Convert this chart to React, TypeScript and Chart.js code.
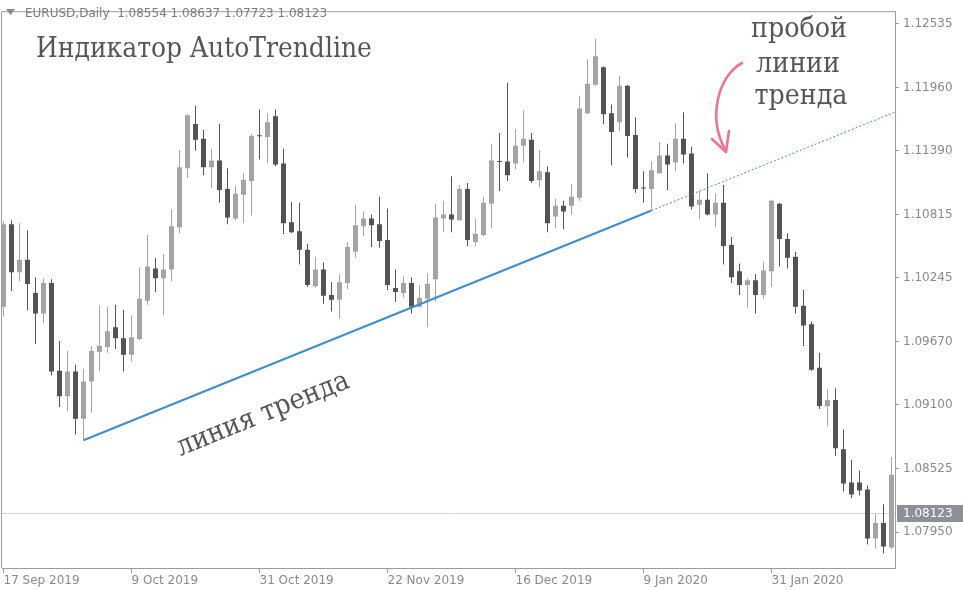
import React, { useEffect, useRef } from "react";
import { Chart, registerables } from "chart.js";

Chart.register(...registerables);

// EURUSD daily bars, 17 Sep 2019 – 21 Feb 2020
const openP = [
  1.09985, 1.10728, 1.10295, 1.10409, 1.10109, 1.09923, 1.10198, 1.09408, 1.09178, 1.094,
  1.08974, 1.09311, 1.09577, 1.09622, 1.09799, 1.09701, 1.09551, 1.09693, 1.10038, 1.1033,
  1.10242, 1.10321, 1.10702, 1.11233, 1.11632, 1.11499, 1.11242, 1.11304, 1.11047, 1.10781,
  1.10994, 1.11118, 1.1153, 1.11516, 1.11702, 1.11277, 1.10746, 1.10666, 1.10498, 1.10171,
  1.10321, 1.10091, 1.10047, 1.10198, 1.1048, 1.1071, 1.10781, 1.10728, 1.10587, 1.10153,
  1.10109, 1.10198, 1.09985, 1.10056, 1.10233, 1.10781, 1.10817, 1.10764, 1.11047, 1.10569,
  1.10631, 1.10914, 1.11299, 1.11295, 1.11277, 1.11437, 1.1149, 1.11127, 1.11198, 1.10799,
  1.10896, 1.10896, 1.10967, 1.11729, 1.11986, 1.12145, 1.11729, 1.11649, 1.11977, 1.11534,
  1.11056, 1.11047, 1.11189, 1.11348, 1.11286, 1.11499, 1.11366, 1.10905, 1.1095, 1.10817,
  1.10923, 1.10542, 1.10304, 1.1018, 1.10224, 1.10091, 1.10304, 1.10914, 1.10595, 1.10436,
  1.09994, 1.09826, 1.09435, 1.0909, 1.09143, 1.087, 1.08399, 1.08399, 1.08337, 1.07894,
  1.08035, 1.07814,
];
const highP = [
  1.10755, 1.10764, 1.10737, 1.10675, 1.10251, 1.10242, 1.10233, 1.09675, 1.09586, 1.09462,
  1.09426, 1.09631, 1.09994, 1.09985, 1.10003, 1.09958, 1.09905, 1.10339, 1.10631, 1.10427,
  1.10462, 1.10861, 1.11401, 1.1172, 1.118, 1.11578, 1.1141, 1.11632, 1.11233, 1.11074,
  1.11189, 1.11543, 1.11764, 1.11729, 1.11764, 1.1141, 1.10932, 1.10923, 1.10551, 1.10436,
  1.10383, 1.10206, 1.10277, 1.10569, 1.10905, 1.10843, 1.10817, 1.10976, 1.1087, 1.10321,
  1.10259, 1.10251, 1.1018, 1.10286, 1.10914, 1.10941, 1.11162, 1.11082, 1.111, 1.10781,
  1.10976, 1.11454, 1.11552, 1.12004, 1.11587, 1.11756, 1.11552, 1.11401, 1.11251, 1.10958,
  1.10941, 1.11091, 1.11888, 1.12216, 1.12402, 1.12154, 1.11809, 1.12066, 1.11986, 1.11694,
  1.11206, 1.11295, 1.11472, 1.11454, 1.1164, 1.11738, 1.11428, 1.11029, 1.11189, 1.11003,
  1.11082, 1.10613, 1.10374, 1.10242, 1.10277, 1.10392, 1.1095, 1.10923, 1.10648, 1.1048,
  1.10135, 1.09852, 1.09569, 1.0924, 1.09249, 1.08877, 1.08602, 1.08505, 1.08372, 1.08115,
  1.08204, 1.08629,
];
const lowP = [
  1.09896, 1.10127, 1.10215, 1.0995, 1.09648, 1.09834, 1.09364, 1.09081, 1.09045, 1.08833,
  1.0878, 1.09028, 1.094, 1.09569, 1.09604, 1.094, 1.09489, 1.09684, 1.10003, 1.10118,
  1.09905, 1.10215, 1.10648, 1.11144, 1.11392, 1.11171, 1.11056, 1.10923, 1.10728, 1.10764,
  1.10737, 1.10808, 1.11313, 1.11277, 1.11251, 1.1064, 1.10648, 1.10365, 1.10162, 1.10153,
  1.10012, 1.09941, 1.09879, 1.10144, 1.10427, 1.10622, 1.10524, 1.10516, 1.10135, 1.10029,
  1.10065, 1.09923, 1.09976, 1.09799, 1.10029, 1.10657, 1.10657, 1.10764, 1.10533, 1.10533,
  1.10622, 1.10693, 1.11029, 1.11118, 1.11224, 1.11286, 1.111, 1.11065, 1.10657, 1.10693,
  1.10684, 1.10817, 1.10941, 1.1172, 1.11977, 1.11632, 1.1126, 1.1157, 1.1133, 1.11012,
  1.10923, 1.10861, 1.11189, 1.11038, 1.11206, 1.11277, 1.10861, 1.10772, 1.10808, 1.10702,
  1.10365, 1.10198, 1.10091, 1.09976, 1.09923, 1.10056, 1.10162, 1.10347, 1.1033, 1.09923,
  1.09631, 1.09408, 1.09063, 1.08904, 1.08638, 1.08319, 1.08257, 1.08283, 1.07841, 1.07805,
  1.07761, 1.07796,
];
const closeP = [
  1.10728, 1.10295, 1.10409, 1.10189, 1.09923, 1.10198, 1.094, 1.09178, 1.094, 1.08974,
  1.09311, 1.09586, 1.09631, 1.09763, 1.09701, 1.09551, 1.0971, 1.10056, 1.10347, 1.10242,
  1.10321, 1.1071, 1.11242, 1.11711, 1.1149, 1.11242, 1.11304, 1.11038, 1.1079, 1.11003,
  1.11127, 1.11525, 1.11521, 1.11649, 1.11268, 1.10737, 1.10657, 1.10498, 1.1018, 1.10321,
  1.10083, 1.10047, 1.10206, 1.10524, 1.10719, 1.10781, 1.10719, 1.10578, 1.1018, 1.10118,
  1.10198, 1.09985, 1.10065, 1.10189, 1.1079, 1.10817, 1.10772, 1.11047, 1.10587, 1.1064,
  1.10923, 1.11304, 1.11291, 1.11171, 1.11437, 1.11499, 1.11118, 1.11206, 1.10737, 1.10896,
  1.10843, 1.10976, 1.11773, 1.11995, 1.12243, 1.1172, 1.11561, 1.11977, 1.11525, 1.11047,
  1.11051, 1.11215, 1.11348, 1.11268, 1.11499, 1.11357, 1.10888, 1.1095, 1.10817, 1.10923,
  1.10533, 1.10251, 1.1018, 1.10224, 1.10091, 1.10312, 1.10941, 1.10595, 1.10427, 1.09985,
  1.09816, 1.09417, 1.0909, 1.09143, 1.08709, 1.0839, 1.08292, 1.08328, 1.07894, 1.08035,
  1.07823, 1.08469,
];

const dateTickIndex = [0, 16, 32, 48, 64, 80, 96];
const dateTickText = [
  "17 Sep 2019",
  "9 Oct 2019",
  "31 Oct 2019",
  "22 Nov 2019",
  "16 Dec 2019",
  "9 Jan 2020",
  "31 Jan 2020",
];
const priceTicks = [1.12535, 1.1196, 1.1139, 1.10815, 1.10245, 1.0967, 1.091, 1.08525, 1.0795];
const bidPrice = 1.08123;
const headerText = "EURUSD,Daily  1.08554 1.08637 1.07723 1.08123";

// Trend line anchored on two bars; the dotted part extends it to the right edge
const trendFrom = { bar: 10, price: 1.0878 };
const trendTo = { bar: 81, price: 1.10852 };

const BAR_MIN = -0.1875;
const BAR_MAX = 111.4375;
const PRICE_MIN = 1.07628;
const PRICE_MAX = 1.1265;

const BULL = "#a4a4a4";
const BEAR = "#535353";
const FRAME = "#9c9c9c";
const AXIS_TEXT = "#8a8a8a";
const NOTE = "#565656";
const SANS = '"DejaVu Sans", sans-serif';
const SERIF = '"DejaVu Serif Condensed", "DejaVu Serif", serif';

const TITLE = "Индикатор AutoTrendline";
const BREAK_NOTE = ["пробой", "линии", "тренда"];
const LINE_NOTE = "линия тренда";

// fit a caption to a width, returning the font size to use
function fitSize(ctx: CanvasRenderingContext2D, text: string, width: number) {
  ctx.font = `30px ${SERIF}`;
  return (30 * width) / ctx.measureText(text).width;
}

const decorations = {
  id: "decorations",
  beforeDatasetsDraw(chart: any) {
    const { ctx, chartArea: a, scales } = chart;
    const yb = Math.round(scales.y.getPixelForValue(bidPrice)) + 0.5;
    ctx.save();
    ctx.strokeStyle = "#d6d6d6";
    ctx.lineWidth = 1;
    ctx.beginPath();
    ctx.moveTo(a.left, yb);
    ctx.lineTo(a.right, yb);
    ctx.stroke();
    ctx.restore();
  },
  afterDraw(chart: any) {
    const { ctx, chartArea: a, scales, width } = chart;
    const xs = scales.x;
    const ys = scales.y;
    ctx.save();

    // left and top edges of the frame
    ctx.strokeStyle = FRAME;
    ctx.lineWidth = 1;
    ctx.beginPath();
    ctx.moveTo(a.left - 0.5, a.bottom);
    ctx.lineTo(a.left - 0.5, a.top + 0.5);
    ctx.lineTo(a.right, a.top + 0.5);
    ctx.stroke();

    // bid price tag on the price axis
    const yb = Math.round(ys.getPixelForValue(bidPrice));
    ctx.fillStyle = "#8d9098";
    ctx.fillRect(a.right + 2, yb - 8, width - a.right - 2, 17);
    ctx.fillStyle = "#ffffff";
    ctx.font = `12px ${SANS}`;
    ctx.textBaseline = "middle";
    ctx.textAlign = "left";
    ctx.fillText(bidPrice.toFixed(5), a.right + 8, yb + 1);

    // symbol header
    ctx.fillStyle = "#8a8a8a";
    ctx.beginPath();
    ctx.moveTo(6, 9);
    ctx.lineTo(15, 9);
    ctx.lineTo(10.5, 15);
    ctx.closePath();
    ctx.fill();
    ctx.fillStyle = "#7c7c7c";
    ctx.textBaseline = "alphabetic";
    ctx.font = `12px ${SANS}`;
    ctx.fillText(headerText, 25, 17);

    // serif captions
    const size = fitSize(ctx, TITLE, 336);
    ctx.font = `${size}px ${SERIF}`;
    ctx.fillStyle = NOTE;
    ctx.textAlign = "left";
    ctx.fillText(TITLE, 36, 57);

    ctx.textAlign = "center";
    const noteX = [799, 798, 801];
    const noteY = [37, 72, 104];
    const noteSize = fitSize(ctx, BREAK_NOTE[2], 93);
    ctx.font = `${noteSize}px ${SERIF}`;
    BREAK_NOTE.forEach((t, i) => ctx.fillText(t, noteX[i], noteY[i]));

    // caption running along the trend line
    const x1 = xs.getPixelForValue(trendFrom.bar);
    const y1 = ys.getPixelForValue(trendFrom.price);
    const x2 = xs.getPixelForValue(trendTo.bar);
    const y2 = ys.getPixelForValue(trendTo.price);
    const ang = Math.atan2(y2 - y1, x2 - x1);
    const cx = 263;
    const cy = y1 + ((cx - x1) * (y2 - y1)) / (x2 - x1) + 47;
    const lineSize = fitSize(ctx, LINE_NOTE, 184);
    ctx.save();
    ctx.translate(cx, cy);
    ctx.rotate(ang);
    ctx.font = `${lineSize}px ${SERIF}`;
    ctx.textBaseline = "middle";
    ctx.fillText(LINE_NOTE, 0, 0);
    ctx.restore();

    // pink pointer to the break
    ctx.strokeStyle = "#ee7490";
    ctx.lineWidth = 2.6;
    ctx.lineCap = "round";
    ctx.lineJoin = "round";
    ctx.beginPath();
    ctx.moveTo(742, 63);
    ctx.bezierCurveTo(718, 76, 707, 118, 726, 151);
    ctx.stroke();
    ctx.beginPath();
    ctx.moveTo(712, 139);
    ctx.lineTo(726, 152);
    ctx.lineTo(729, 131);
    ctx.stroke();

    ctx.restore();
  },
};

export default function App() {
  const ref = useRef<HTMLCanvasElement | null>(null);

  useEffect(() => {
    if (!ref.current) return;
    const bars = openP.map((_, i) => i);
    const colors = bars.map((i) => (closeP[i] >= openP[i] ? BULL : BEAR));
    const slope = (trendTo.price - trendFrom.price) / (trendTo.bar - trendFrom.bar);
    const extEnd = trendTo.price + slope * (BAR_MAX - trendTo.bar);

    const chart = new Chart(ref.current, {
      type: "bar",
      data: {
        datasets: [
          {
            type: "line",
            data: [
              { x: trendFrom.bar, y: trendFrom.price },
              { x: trendTo.bar, y: trendTo.price },
            ],
            borderColor: "#3a8ddc",
            borderWidth: 2,
            pointRadius: 0,
            order: 0,
          } as any,
          {
            type: "line",
            data: [
              { x: trendTo.bar, y: trendTo.price },
              { x: BAR_MAX, y: extEnd },
            ],
            borderColor: "#4a8db5",
            borderWidth: 1,
            borderDash: [2, 2],
            pointRadius: 0,
            order: 0,
          } as any,
          {
            type: "bar",
            data: bars.map((i) => ({ x: i, y: [openP[i], closeP[i]] })),
            backgroundColor: colors,
            barThickness: 5,
            grouped: false,
            minBarLength: 1,
            borderWidth: 0,
            inflateAmount: 0,
            order: 1,
          } as any,
          {
            type: "bar",
            data: bars.map((i) => ({ x: i, y: [lowP[i], highP[i]] })),
            backgroundColor: colors,
            barThickness: 1,
            grouped: false,
            borderWidth: 0,
            inflateAmount: 0,
            order: 2,
          } as any,
        ],
      },
      options: {
        responsive: false,
        animation: false,
        devicePixelRatio: 1,
        layout: { padding: { left: 2, top: 1, right: 0, bottom: 0 } },
        plugins: { legend: { display: false }, tooltip: { enabled: false } },
        scales: {
          x: {
            type: "linear",
            position: "bottom",
            min: BAR_MIN,
            max: BAR_MAX,
            offset: false,
            grid: {
              offset: false,
              drawOnChartArea: false,
              drawTicks: true,
              tickLength: 5,
              color: FRAME,
            },
            border: { display: true, color: FRAME },
            ticks: {
              autoSkip: false,
              maxRotation: 0,
              minRotation: 0,
              align: "start",
              padding: 1,
              color: AXIS_TEXT,
              font: { family: SANS, size: 12 },
              callback: (v: any) => {
                const k = dateTickIndex.indexOf(Number(v));
                return k >= 0 ? dateTickText[k] : "";
              },
            },
            afterBuildTicks: (s: any) => {
              s.ticks = dateTickIndex.map((v) => ({ value: v }));
            },
            afterFit: (s: any) => {
              s.height = 22;
            },
          },
          y: {
            type: "linear",
            position: "right",
            min: PRICE_MIN,
            max: PRICE_MAX,
            grid: {
              drawOnChartArea: false,
              drawTicks: true,
              tickLength: 4,
              color: FRAME,
            },
            border: { display: true, color: FRAME },
            ticks: {
              padding: 4,
              color: AXIS_TEXT,
              font: { family: SANS, size: 12 },
              callback: (v: any) => Number(v).toFixed(5),
            },
            afterBuildTicks: (s: any) => {
              s.ticks = priceTicks.map((v) => ({ value: v }));
            },
            afterFit: (s: any) => {
              s.width = 68;
            },
          },
        },
      } as any,
      plugins: [decorations],
    });
    return () => chart.destroy();
  }, []);

  return (
    <div style={{ position: "fixed", left: 0, top: 0, width: 963, height: 590, background: "#ffffff" }}>
      <canvas ref={ref} width={963} height={590} style={{ display: "block" }} />
    </div>
  );
}
